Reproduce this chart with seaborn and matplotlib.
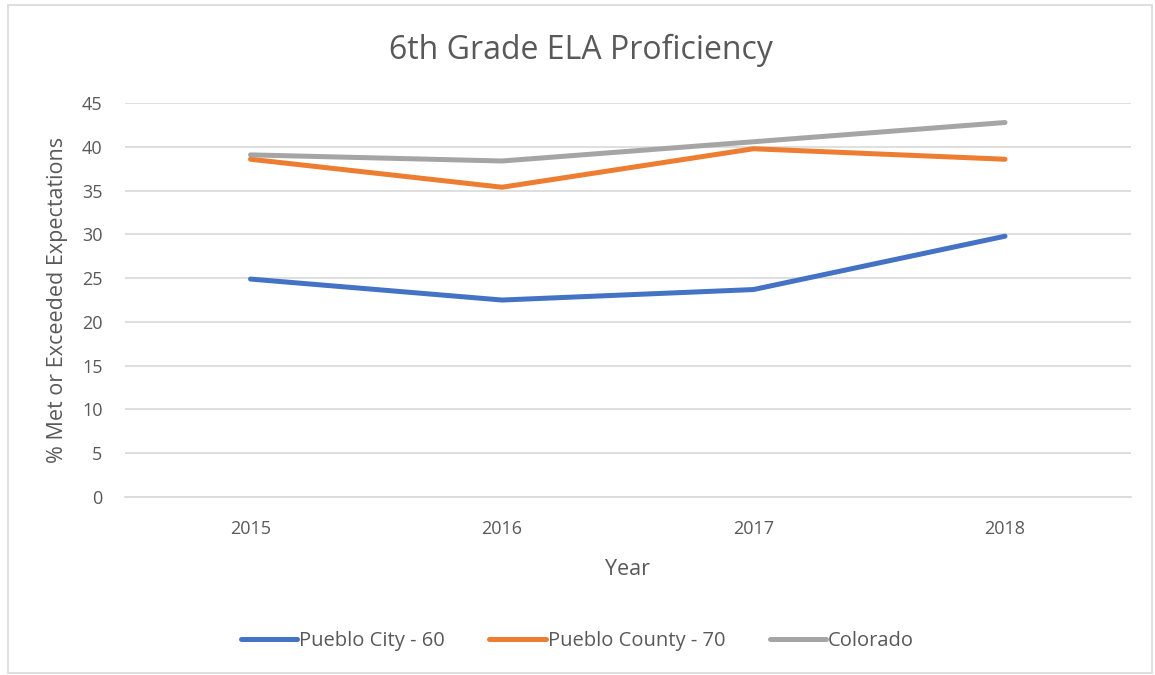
import pandas as pd
import matplotlib.pyplot as plt
import seaborn as sns
from matplotlib.patches import Rectangle

years = ['2015', '2016', '2017', '2018']
pueblo_city = [24.9, 22.5, 23.7, 29.8]
pueblo_county = [38.6, 35.4, 39.8, 38.6]
colorado = [39.1, 38.4, 40.6, 42.8]
series_names = ['Pueblo City - 60', 'Pueblo County - 70', 'Colorado']
colors = ['#4472C4', '#ED7D31', '#A5A5A5']

df = pd.DataFrame({
    'Year': years * 3,
    'value': pueblo_city + pueblo_county + colorado,
    'series': [s for s in series_names for _ in years],
})

sns.set_theme(style='white')
plt.rcParams['font.family'] = ['Open Sans', 'DejaVu Sans']
text_color = '#595959'

fig, ax = plt.subplots(figsize=(11.55, 6.75), dpi=100)
fig.subplots_adjust(left=0.108, right=0.979, top=0.847, bottom=0.264)

sns.lineplot(data=df, x='Year', y='value', hue='series', palette=colors,
             linewidth=3.6, sort=False, ax=ax, solid_capstyle='round')

ax.set_xlim(-0.5, 3.5)
ax.set_ylim(0, 45)
ax.set_yticks(range(0, 50, 5))
ax.grid(axis='y', color='#D9D9D9', linewidth=1.2)
ax.set_axisbelow(True)
for side in ['top', 'right', 'left']:
    ax.spines[side].set_visible(False)
ax.spines['bottom'].set_color('#D9D9D9')
ax.spines['bottom'].set_linewidth(1.2)
ax.tick_params(axis='both', length=0, labelsize=13, colors=text_color)
ax.tick_params(axis='x', pad=17)
ax.tick_params(axis='y', pad=16)

ax.set_xlabel('Year', fontsize=15.5, color=text_color, labelpad=15)
ax.set_ylabel('% Met or Exceeded Expectations', fontsize=15.5, color=text_color, labelpad=10)
fig.suptitle('6th Grade ELA Proficiency', x=0.503, y=0.95, fontsize=23, color=text_color)

leg = ax.legend(loc='upper center', bbox_to_anchor=(0.45, -0.295), ncol=3, frameon=False,
                fontsize=14.5, handlelength=2.8, handletextpad=0.1, columnspacing=2.2)
for txt in leg.get_texts():
    txt.set_color(text_color)
for line in leg.get_lines():
    line.set_linewidth(3.6)

fig.patches.append(Rectangle((0.007, 0.003), 0.99, 0.99, transform=fig.transFigure,
                             fill=False, edgecolor='#D9D9D9', linewidth=1.2))

fig.savefig('out.png', dpi=100)
